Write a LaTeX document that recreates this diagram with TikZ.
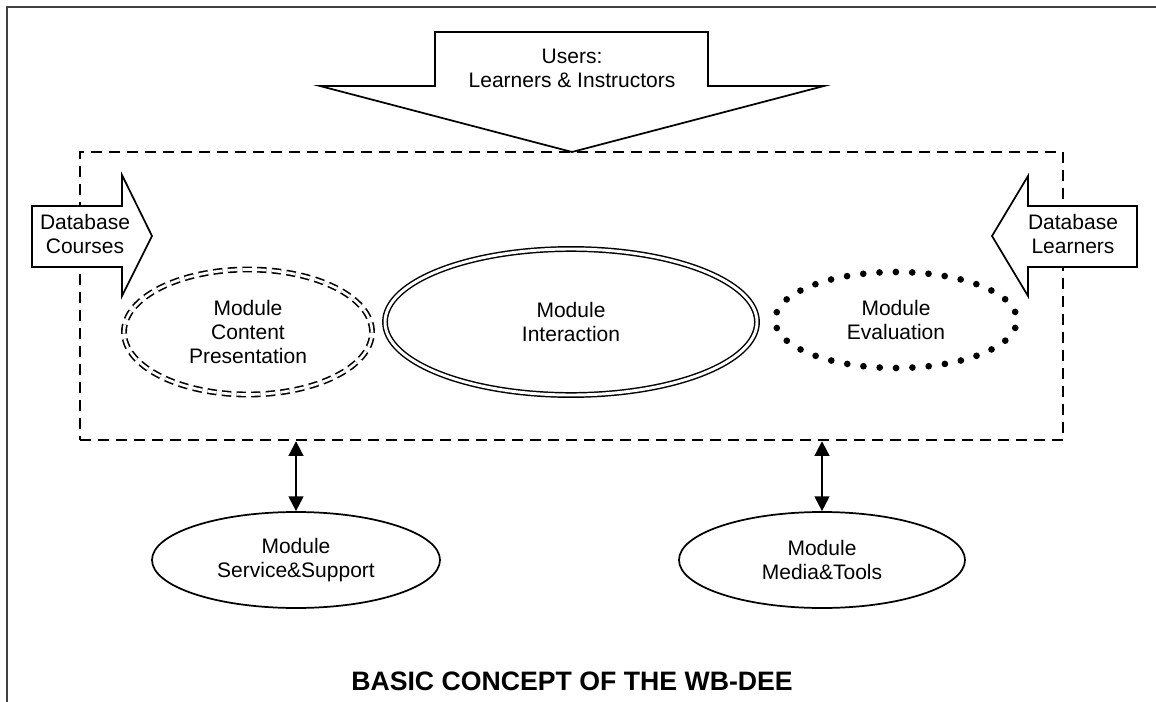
\documentclass[tikz,border=0pt]{standalone}
\usepackage{fontspec}
\setmainfont{Liberation Sans}
\usetikzlibrary{shapes.geometric, arrows.meta}

\tikzset{
  txt/.style = {font = \fontsize{15.75}{18}\selectfont, align = center, inner sep = 0pt},
  modul/.style = {txt, ellipse, draw, line width = 1.3pt},
  blockarrow/.style = {draw, fill = white, line width = 1.3pt, line join = miter},
  twoway/.style = {<->, >={Triangle[width = 11pt, length = 11pt]}, line width = 1.6pt}
}

\begin{document}
\begin{tikzpicture}[x = 0.75pt, y = -0.75pt]
    \useasboundingbox (0,0) rectangle (1156,702); % keep the page margins.
    \draw[line width = 1.6pt, black!75] (1156,7) -- (7,7) -- (7,702);
    % the system (dashed)
    \node[draw, line width = 1.8pt, dash pattern = on 8pt off 5.5pt, inner sep = 0pt,
          minimum width = 737.25pt, minimum height = 216pt] (sys) at (571.5,296) {};
    % data flowing into the system
    \draw[blockarrow] (435,32) -- (708,32) -- (708,86) -- (824,86) -- (572,152) -- (320,86) -- (435,86) -- cycle;
    \draw[blockarrow] (32,206) -- (122,206) -- (122,175) -- (152,236) -- (122,296) -- (122,267) -- (32,267) -- cycle;
    \draw[blockarrow] (1137,206) -- (1028,206) -- (1028,176) -- (992,236) -- (1028,296) -- (1028,267) -- (1137,267) -- cycle;
    \node[txt] (users) at (572,68) {Users:\\Learners \& Instructors};
    \node[txt] (dbcourses) at (85,234) {Database\\Courses};
    \node[txt] (dblearners) at (1073,234) {Database\\Learners};
    % modules inside
    \node[modul, line width = 1.2pt, double, double distance = 2pt, dash pattern = on 7pt off 4pt,
          minimum width = 186pt, minimum height = 93.75pt] (content) at (248,332) {Module\\Content\\Presentation};
    \node[modul, line width = 1.1pt, double, double distance = 2.2pt,
          minimum width = 279pt, minimum height = 109.5pt] (inter) at (571,322) {Module\\Interaction};
    \node[modul, line width = 5pt, line cap = round, dash pattern = on 0pt off 12.26pt, dash phase = 6pt,
          minimum width = 181.5pt, minimum height = 72pt] (eval) at (896,320) {Module\\Evaluation};
    % modules outside
    \node[modul, minimum width = 216pt, minimum height = 72pt] (serv) at (296,560) {Module\\Service\&Support};
    \node[modul, minimum width = 214.5pt, minimum height = 72pt] (media) at (822,560) {Module\\Media\&Tools};
    \foreach \m in {serv, media} { \draw[twoway] (sys.south -| \m.north) -- (\m.north); }
    \node[font = \fontsize{20}{24}\selectfont\bfseries] (title) at (572,681) {BASIC CONCEPT OF THE WB-DEE};
\end{tikzpicture}
\end{document}
